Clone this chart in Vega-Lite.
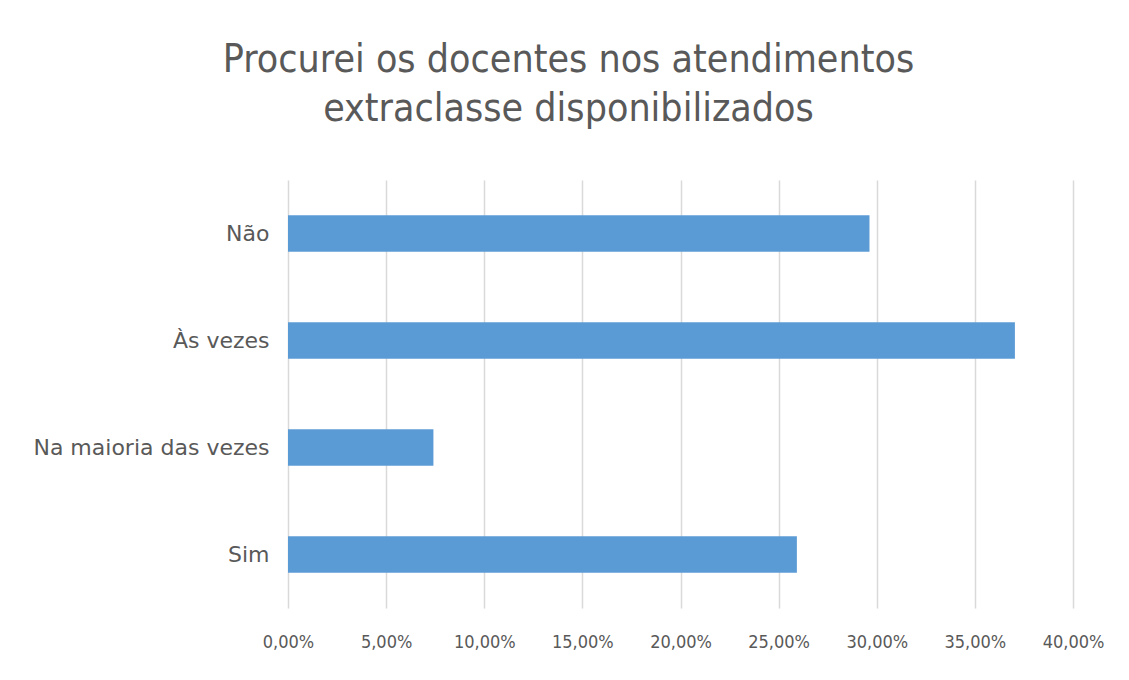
{
  "$schema": "https://vega.github.io/schema/vega-lite/v6.json",
  "width": 785,
  "height": 428,
  "autosize": "none",
  "padding": {"left": 288, "top": 180, "right": 56, "bottom": 72},
  "background": "white",
  "title": {
    "text": ["Procurei os docentes nos atendimentos", "extraclasse disponibilizados"],
    "font": "DejaVu Sans Condensed, Roboto, sans-serif",
    "fontSize": 39,
    "fontWeight": "normal",
    "color": "#595959",
    "anchor": "middle",
    "dx": -112,
    "offset": 51,
    "lineHeight": 49
  },
  "data": {
    "values": [
      {"resposta": "Não", "pct": 0.2963},
      {"resposta": "Às vezes", "pct": 0.3704},
      {"resposta": "Na maioria das vezes", "pct": 0.0741},
      {"resposta": "Sim", "pct": 0.2593}
    ]
  },
  "mark": {"type": "bar", "color": "#5B9BD5"},
  "encoding": {
    "y": {
      "field": "resposta",
      "type": "nominal",
      "sort": null,
      "title": null,
      "scale": {"paddingInner": 0.66, "paddingOuter": 0.33},
      "axis": {
        "ticks": false,
        "domain": false,
        "labelFont": "DejaVu Sans",
        "labelFontSize": 22,
        "labelColor": "#595959",
        "labelPadding": 19,
        "labelLimit": 300
      }
    },
    "x": {
      "field": "pct",
      "type": "quantitative",
      "title": null,
      "scale": {"domain": [0, 0.4], "nice": false},
      "axis": {
        "values": [0, 0.05, 0.1, 0.15, 0.2, 0.25, 0.3, 0.35, 0.4],
        "labelExpr": "replace(format(datum.value, '.2%'), '.', ',')",
        "ticks": false,
        "domain": false,
        "grid": true,
        "gridColor": "#D9D9D9",
        "gridWidth": 1.5,
        "labelFlush": false,
        "labelBound": false,
        "labelOverlap": false,
        "labelFont": "DejaVu Sans Condensed, Roboto, sans-serif",
        "labelFontSize": 18,
        "labelColor": "#595959",
        "labelPadding": 25
      }
    }
  },
  "config": {"view": {"stroke": null}}
}
